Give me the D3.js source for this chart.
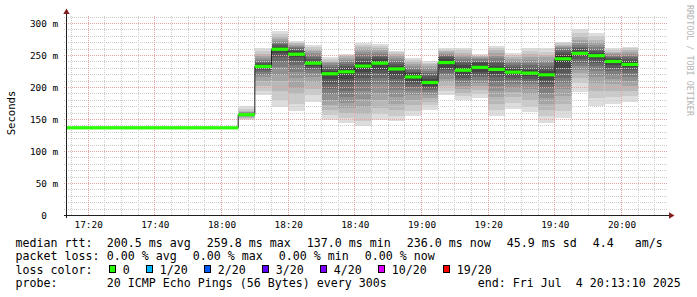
<!DOCTYPE html>
<html>
<head>
<meta charset="utf-8">
<script src="https://cdn.jsdelivr.net/npm/d3@7"></script>
<style>
  body { margin: 0; background: #fff; }
  text { font-family: "DejaVu Sans Mono", monospace; fill: #000; white-space: pre; }
</style>
</head>
<body>
<svg id="chart" width="697" height="297"></svg>
<script>
// ---- data ----
var viewStart = "17:13:30", viewEnd = "20:13:30";

// end of each 5 minute step
var endTimes = ["17:15","17:20","17:25","17:30","17:35","17:40","17:45","17:50","17:55","18:00","18:05",
  "18:10","18:15","18:20","18:25","18:30","18:35","18:40","18:45","18:50","18:55","19:00",
  "19:05","19:10","19:15","19:20","19:25","19:30","19:35","19:40","19:45","19:50","19:55","20:00","20:05"];

// median rtt in ms
var medianMs = [137,137,137,137,137,137,137,137,137,137,137,
  157.5,233,259.8,252,238,221.5,224.5,233.5,238,229,216.5,
  207.8,239,227,231.5,228.3,224,222.5,219.8,244.8,253.4,249.7,240.7,236.0];

// the 20 sorted pings of each step (ms), null where no smoke is shown
var pingsMs = [null,null,null,null,null,null,null,null,null,null,null,
  [149,151,153,154,155,156,156,157,157,157,158,158,159,159,160,161,162,164,166,171],
  [188,195,203,210,216,220,224,227,230,232,234,236,238,240,243,246,250,253,257,261],
  [169,180,195,210,220,232,240,248,254,258,261,264,266,268,270,273,276,279,283,288],
  [163,175,190,200,215,225,235,242,247,250,254,257,259,261,263,265,267,269,270,272],
  [178,188,198,208,217,222,227,231,234,237,239,242,245,248,251,254,257,260,263,266],
  [150,157,165,172,180,190,198,206,213,219,223,226,229,232,235,238,240,242,245,248],
  [145,152,160,168,176,185,195,205,213,221,228,231,234,237,240,243,246,249,251,253],
  [140,148,158,170,182,195,205,215,224,231,236,240,244,248,252,256,260,263,267,270],
  [149,158,168,180,192,205,215,222,228,235,241,244,247,250,253,256,259,262,265,268],
  [148,156,165,175,185,196,206,214,220,227,231,234,237,240,243,246,249,252,255,257],
  [155,163,172,180,188,195,201,206,210,214,219,222,225,228,231,234,237,240,243,246],
  [165,172,178,184,189,193,196,199,202,205,210,214,218,222,226,230,233,236,239,241],
  [188,195,202,208,214,219,223,227,231,236,242,245,247,249,251,253,255,257,259,261],
  [180,186,192,198,203,207,211,215,219,224,230,235,239,242,245,248,251,254,258,262],
  [184,190,196,202,207,212,216,220,224,229,234,238,240,242,244,246,248,249,250,252],
  [155,165,175,185,195,203,210,216,221,226,231,234,238,242,246,250,254,258,262,265],
  [167,176,185,193,200,206,211,215,219,222,226,229,232,235,238,241,245,248,251,254],
  [161,170,180,190,198,205,210,214,218,221,224,227,231,235,239,243,247,252,257,262],
  [145,155,165,175,184,192,199,205,211,217,222,226,230,234,238,242,247,251,256,261],
  [153,163,175,187,198,207,215,222,230,240,249,252,255,258,261,263,265,267,269,271],
  [193,207,215,222,228,234,239,244,249,252,255,258,261,264,267,270,274,279,285,292],
  [171,183,195,207,217,226,233,239,244,248,251,254,257,260,263,267,271,275,280,285],
  [175,185,195,205,213,220,226,231,235,239,242,244,246,248,250,252,254,256,258,261],
  [178,186,194,202,210,217,223,228,232,234,238,241,244,247,250,253,256,259,261,263]];

var yTicks = [0, 50, 100, 150, 200, 250, 300];
var xTicks = ["17:20","17:40","18:00","18:20","18:40","19:00","19:20","19:40","20:00"];

var lossLabels = ["0", "1/20", "2/20", "3/20", "4/20", "10/20", "19/20"];
var lossColors = ["#26ff00", "#00b8ff", "#0059ff", "#5e00ff", "#7e00ff", "#dd00ff", "#ff0000"];

var rttStats = ["200.5 ms avg", "259.8 ms max", "137.0 ms min", "236.0 ms now", "45.9 ms sd", "4.4   am/s"];
var lossStats = ["0.00 % avg", "0.00 % max", "0.00 % min", "0.00 % now"];
var probeText = "20 ICMP Echo Pings (56 Bytes) every 300s";
var endText = "end: Fri Jul  4 20:13:10 2025";

// ---- chart ----
var svg = d3.select("#chart");
var parseHMS = d3.timeParse("%H:%M:%S"), parseHM = d3.timeParse("%H:%M");
var step = 5 * 60 * 1000;

var x = d3.scaleTime().domain([parseHMS(viewStart), parseHMS(viewEnd)]).range([66.5, 666.5]);
var y = d3.scaleLinear().domain([0, 312.5]).range([215.5, 15.5]);
var snap = function(v) { return Math.round(v - 0.5) + 0.5; };

var rows = endTimes.map(function(t, i) {
  var end = parseHM(t);
  return {start: new Date(+end - step), end: end, median: medianMs[i], pings: pingsMs[i]};
});

svg.append("rect").attr("width", 697).attr("height", 297).attr("fill", "#fff");

svg.append("defs").append("clipPath").attr("id", "plot")
  .append("rect").attr("x", 66.5).attr("y", 0).attr("width", 600).attr("height", 216);

var plot = svg.append("g").attr("clip-path", "url(#plot)").attr("shape-rendering", "crispEdges");

// smoke: outer pairs light, inner pairs dark
rows.filter(function(d) { return d.pings; }).forEach(function(d) {
  var n = d.pings.length, half = n / 2;
  for (var i = 0; i < half; i++) {
    var c = Math.floor(190 / half * (half - 1 - i)) + 50;
    plot.append("rect")
      .attr("x", x(d.start))
      .attr("width", x(d.end) - x(d.start))
      .attr("y", y(d.pings[n - 1 - i]))
      .attr("height", y(d.pings[i]) - y(d.pings[n - 1 - i]))
      .attr("fill", d3.rgb(c, c, c));
  }
});

// grid on top of the smoke
var grid = svg.append("g").attr("shape-rendering", "crispEdges").attr("stroke-dasharray", "1,1");
var majorTimes = xTicks.map(parseHM);
var minorTimes = d3.timeMinute.every(5).range(x.domain()[0], x.domain()[1])
  .filter(function(t) { return t.getMinutes() % 20 !== 0; });

grid.selectAll(".hmin").data(d3.range(10, 312, 10).filter(function(v) { return v % 50; }))
  .enter().append("line")
  .attr("x1", 63.5).attr("x2", 666.5)
  .attr("y1", function(d) { return snap(y(d)); }).attr("y2", function(d) { return snap(y(d)); })
  .attr("stroke", "#cdcdcd");
grid.selectAll(".vmin").data(minorTimes).enter().append("line")
  .attr("x1", function(d) { return snap(x(d)); }).attr("x2", function(d) { return snap(x(d)); })
  .attr("y1", 15.5).attr("y2", 215.5)
  .attr("stroke", "#cdcdcd");
grid.selectAll(".hmaj").data(yTicks.filter(function(v) { return v > 0; })).enter().append("line")
  .attr("x1", 63.5).attr("x2", 666.5)
  .attr("y1", function(d) { return snap(y(d)); }).attr("y2", function(d) { return snap(y(d)); })
  .attr("stroke", "#e8a2a2");
grid.selectAll(".vmaj").data(majorTimes).enter().append("line")
  .attr("x1", function(d) { return snap(x(d)); }).attr("x2", function(d) { return snap(x(d)); })
  .attr("y1", 15.5).attr("y2", 215.5)
  .attr("stroke", "#e8a2a2");

// median: dark step line plus a loss-coloured band
var medPts = rows.map(function(d) { return [d.start, d.median]; });
medPts.push([rows[rows.length - 1].end, rows[rows.length - 1].median]);
var medG = svg.append("g").attr("clip-path", "url(#plot)");
medG.append("path")
  .attr("d", d3.line().x(function(d) { return x(d[0]); }).y(function(d) { return y(d[1]); })
    .curve(d3.curveStepAfter)(medPts))
  .attr("fill", "none").attr("stroke", "#202020").attr("stroke-width", 1);
medG.selectAll(".med").data(rows).enter().append("rect")
  .attr("x", function(d) { return x(d.start); })
  .attr("width", function(d) { return x(d.end) - x(d.start); })
  .attr("y", function(d) { return y(d.median) - 1.6; })
  .attr("height", 3.2)
  .attr("fill", lossColors[0]);

// axes
var xAxis = svg.append("g").attr("transform", "translate(0,215.5)")
  .call(d3.axisBottom(x).tickValues(majorTimes).tickFormat(d3.timeFormat("%H:%M")).tickSize(0).tickPadding(6.2));
var yAxis = svg.append("g").attr("transform", "translate(66.5,0)")
  .call(d3.axisLeft(y).tickValues(yTicks)
    .tickFormat(function(d) { return d ? d + " m" : "0\u00a0\u00a0"; }).tickSize(0).tickPadding(8.3));
[xAxis, yAxis].forEach(function(a) {
  a.select(".domain").remove();
  a.selectAll("text").attr("font-family", "DejaVu Sans Mono").attr("font-size", 9.4).attr("fill", "#000");
});

svg.append("line").attr("x1", 66.5).attr("x2", 66.5).attr("y1", 218).attr("y2", 13)
  .attr("stroke", "#202020").attr("shape-rendering", "crispEdges");
svg.append("line").attr("x1", 63.5).attr("x2", 670).attr("y1", 215.5).attr("y2", 215.5)
  .attr("stroke", "#202020").attr("shape-rendering", "crispEdges");
svg.append("path").attr("d", "M66.5,8.5L63.3,14L69.7,14Z").attr("fill", "#801f1f");
svg.append("path").attr("d", "M674.5,215.5L669,212.3L669,218.7Z").attr("fill", "#801f1f");

// axis title and watermark
svg.append("text").attr("transform", "translate(14.6,113) rotate(-90)")
  .attr("text-anchor", "middle").attr("font-family", "DejaVu Sans").attr("font-size", 10.6)
  .text("Seconds");
svg.append("text").attr("transform", "translate(686.5,5) rotate(90)")
  .attr("font-size", 8.4).style("fill", "#b4b4b4")
  .text("RRDTOOL / TOBI OETIKER");

// legend
var legendFont = 11.63, charW = 7.0, labelX = 15.5, valueX = 106.8, gap = 16;
var lineY = function(i) { return 246.5 + i * 13.6; };
var leg = svg.append("g").attr("font-size", legendFont);

function textRow(i, label, items) {
  leg.append("text").attr("x", labelX).attr("y", lineY(i)).text(label);
  var cx = valueX;
  items.forEach(function(s) {
    leg.append("text").attr("x", cx).attr("y", lineY(i)).text(s);
    cx += s.length * charW + gap;
  });
}
textRow(0, "median rtt:", rttStats);
textRow(1, "packet loss:", lossStats);

leg.append("text").attr("x", labelX).attr("y", lineY(2)).text("loss color:");
var lx = valueX;
lossLabels.forEach(function(s, i) {
  leg.append("rect").attr("x", lx + 2.7).attr("y", lineY(2) - 8).attr("width", 6).attr("height", 7)
    .attr("fill", lossColors[i]).attr("stroke", "#000").attr("shape-rendering", "crispEdges");
  leg.append("text").attr("x", lx + 16).attr("y", lineY(2)).text(s);
  lx += 16 + s.length * charW + 14;
});

textRow(3, "probe:", [probeText]);
leg.append("text").attr("x", 680.8).attr("y", lineY(3)).attr("text-anchor", "end").text(endText);
</script>
</body>
</html>
